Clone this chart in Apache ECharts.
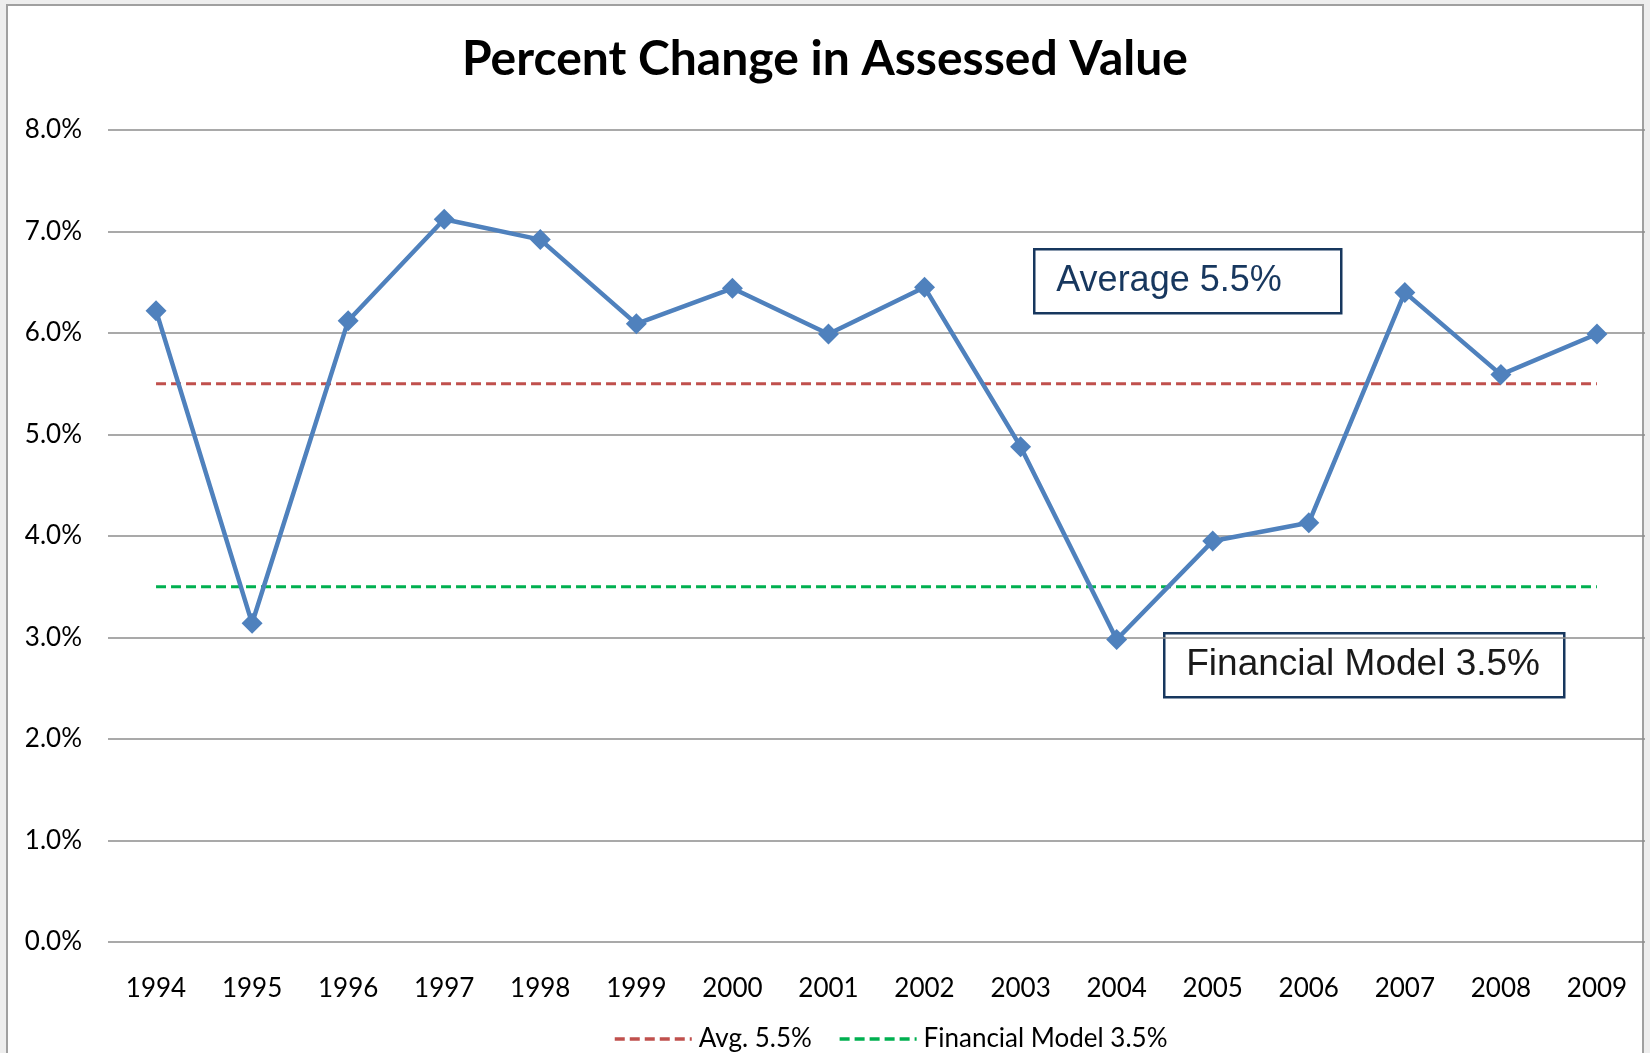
<!DOCTYPE html>
<html>
<head>
<meta charset="utf-8">
<title>Percent Change in Assessed Value</title>
<script src="https://cdn.jsdelivr.net/npm/echarts@6/dist/echarts.min.js"></script>
<style>
    html, body { margin: 0; padding: 0; background: #eeeeee; }
    #frame {
        position: absolute; left: 6px; top: 4px; width: 1638px; height: 1060px;
        background: #ffffff; border: 2px solid #a0a0a0; box-sizing: border-box;
    }
    #chart { position: absolute; left: 0; top: 0; width: 1650px; height: 1053px; }
</style>
</head>
<body>
<div id="frame"></div>
<div id="chart"></div>
<script>
    var years = ['1994', '1995', '1996', '1997', '1998', '1999', '2000', '2001',
        '2002', '2003', '2004', '2005', '2006', '2007', '2008', '2009'];
    // percent change
    var pctChange = [6.22, 3.14, 6.12, 7.12, 6.92, 6.09, 6.44, 5.99,
        6.45, 4.88, 2.98, 3.95, 4.13, 6.40, 5.59, 5.99];
    var avgLevel = 5.5;
    var modelLevel = 3.5;
    var yTicks = { min: 0, max: 8, step: 1 };

    var flat = function (v) {
        return years.map(function () { return v; });
    };

    var labelFont = 'Lato, "Open Sans", sans-serif';
    var chart = echarts.init(document.getElementById('chart'));

    chart.setOption({
        animation: false,
        backgroundColor: 'transparent',
        title: {
            text: 'Percent Change in Assessed Value',
            left: 'center',
            top: 31,
            textStyle: { fontFamily: labelFont, fontWeight: 'bold', fontSize: 48, color: '#000' }
        },
        legend: {
            data: ['Avg. 5.5%', 'Financial Model 3.5%'],
            left: 608,
            top: 1021,
            itemWidth: 77,
            itemHeight: 14,
            itemGap: 26,
            itemStyle: { opacity: 0 },
            lineStyle: { width: 3.5, type: [10, 5] },
            textStyle: { fontFamily: labelFont, fontSize: 26, color: '#000', padding: [0, 0, 0, 2] }
        },
        grid: { left: 108, right: 5, top: 130, bottom: 111 },
        xAxis: {
            type: 'category',
            data: years,
            boundaryGap: true,
            axisLine: { show: false },
            axisTick: { show: false },
            axisLabel: { fontFamily: labelFont, fontSize: 26, color: '#000', margin: 34 }
        },
        yAxis: {
            type: 'value',
            min: yTicks.min,
            max: yTicks.max,
            interval: yTicks.step,
            axisLine: { show: false },
            axisTick: { show: false },
            axisLabel: {
                fontFamily: labelFont, fontSize: 26, color: '#000', margin: 26,
                formatter: function (v) { return v.toFixed(1) + '%'; }
            },
            splitLine: { lineStyle: { color: '#8c8c8c', width: 1.5 } }
        },
        series: [
            {
                name: 'Percent Change',
                type: 'line',
                data: pctChange,
                symbol: 'diamond',
                symbolSize: 21,
                z: 5,
                lineStyle: { color: '#4F81BD', width: 4.5 },
                itemStyle: { color: '#4F81BD' }
            },
            {
                name: 'Avg. 5.5%',
                type: 'line',
                data: flat(avgLevel),
                symbol: 'none',
                z: 3,
                lineStyle: { color: '#C0504D', width: 3, type: [10, 5] },
                itemStyle: { color: '#C0504D' }
            },
            {
                name: 'Financial Model 3.5%',
                type: 'line',
                data: flat(modelLevel),
                symbol: 'none',
                z: 3,
                lineStyle: { color: '#00B050', width: 3, type: [10, 5] },
                itemStyle: { color: '#00B050' }
            }
        ],
        graphic: [
            {
                type: 'group',
                left: 1033,
                top: 248,
                children: [
                    { type: 'rect', shape: { x: 0, y: 0, width: 307, height: 64 },
                      style: { fill: '#fff', stroke: '#17375E', lineWidth: 2.5 } },
                    { type: 'text', x: 22, y: 32,
                      style: { text: 'Average 5.5%', fill: '#17375E', font: '36px "Liberation Sans", Arial, sans-serif',
                               verticalAlign: 'middle' } }
                ]
            },
            {
                type: 'group',
                left: 1163,
                top: 632,
                children: [
                    { type: 'rect', shape: { x: 0, y: 0, width: 400, height: 64 },
                      style: { fill: '#fff', stroke: '#17375E', lineWidth: 2.5 } },
                    { type: 'text', x: 22, y: 32,
                      style: { text: 'Financial Model 3.5%', fill: '#1a1a1a', font: '37px "Liberation Sans", Arial, sans-serif',
                               verticalAlign: 'middle' } }
                ]
            }
        ]
    });
</script>
</body>
</html>
